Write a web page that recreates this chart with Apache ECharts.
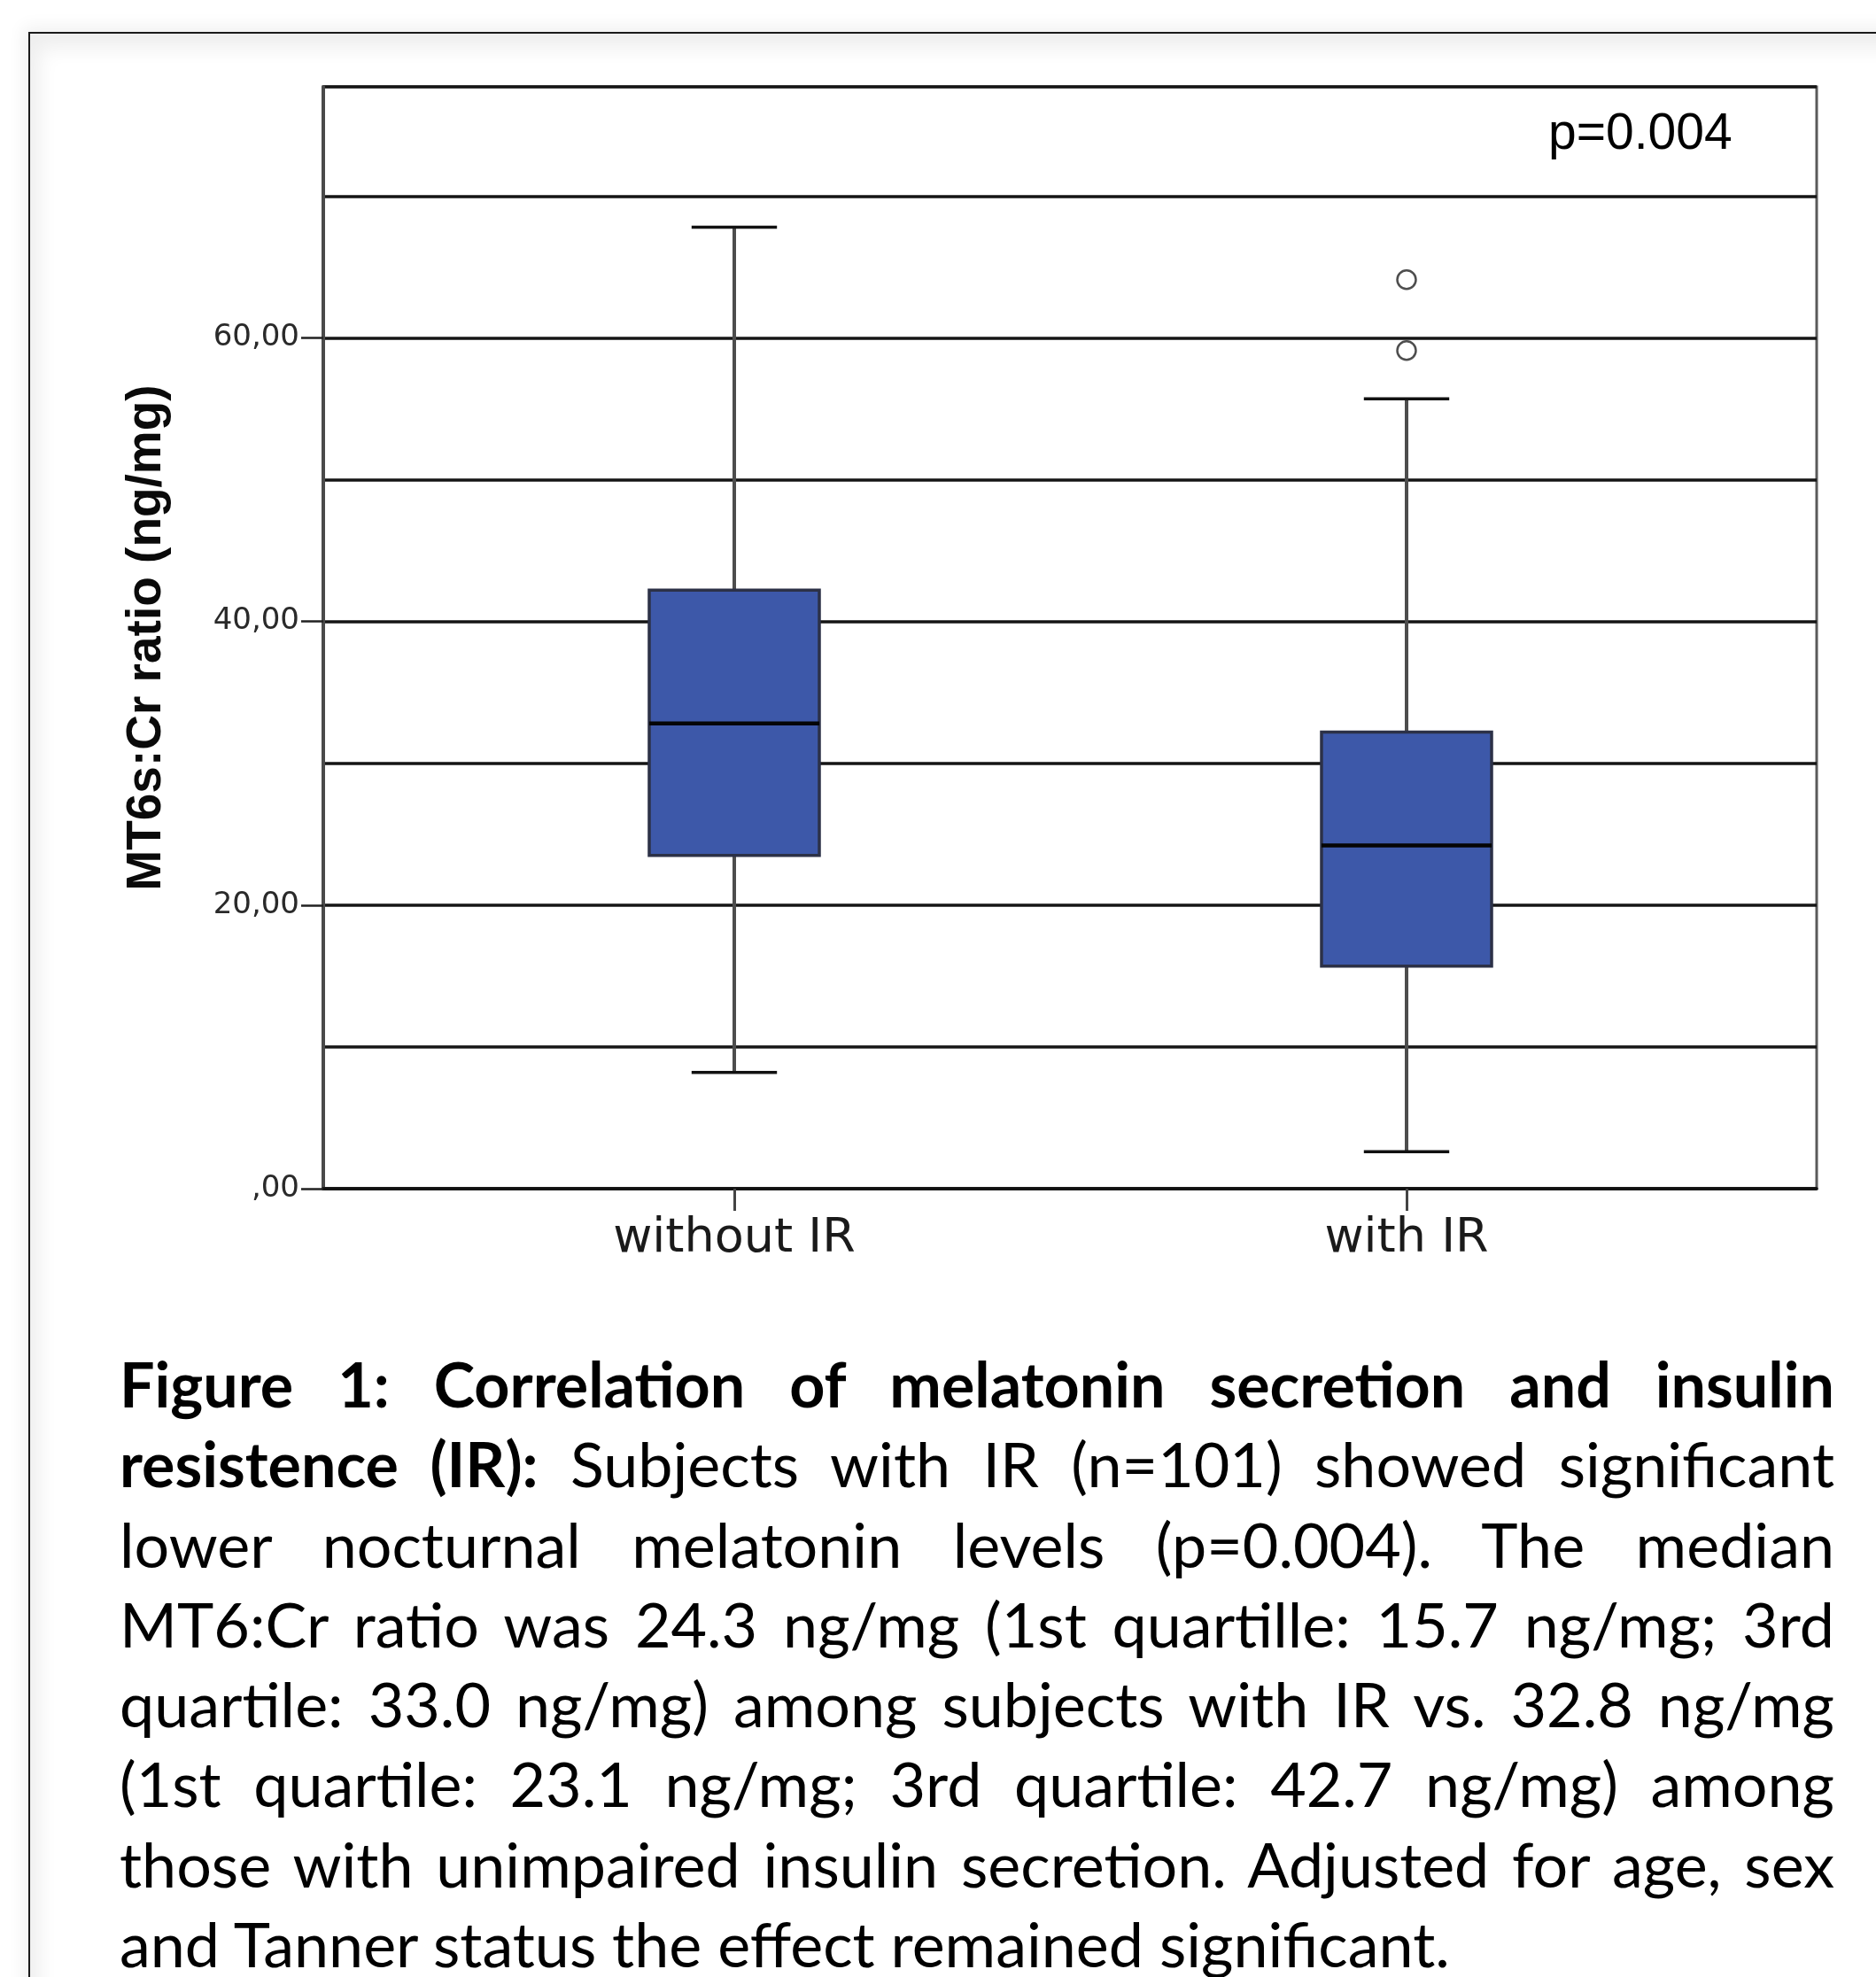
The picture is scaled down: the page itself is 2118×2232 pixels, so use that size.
<!DOCTYPE html>
<html>
<head>
<meta charset="utf-8">
<script src="https://cdn.jsdelivr.net/npm/echarts@6/dist/echarts.min.js"></script>
<style>
html,body{margin:0;padding:0;background:#fff;}
#wrap{position:relative;width:2118px;height:2232px;overflow:hidden;background:#fff;}
#frame{position:absolute;left:32px;top:36px;width:2200px;height:2300px;border-top:2px solid #1a1a1a;border-left:2px solid #1a1a1a;box-shadow:inset 10px 16px 22px rgba(0,0,0,0.07),-6px -6px 18px rgba(0,0,0,0.06);}
#chart{position:absolute;left:0;top:0;width:2118px;height:2232px;}
#caption{position:absolute;left:135px;top:1517px;width:1936px;font-family:Lato,"Open Sans",sans-serif;font-size:70px;line-height:90.3px;color:#000;}
.ln{text-align:justify;text-align-last:justify;white-space:nowrap;}
.ln.last{text-align:left;text-align-last:left;}
b{font-weight:700;}
</style>
</head>
<body>
<div id="wrap">
  <div id="frame"></div>
  <div id="chart"></div>
  <div id="caption">
    <div class="ln"><b>Figure 1: Correlation of melatonin secretion and insulin</b></div>
    <div class="ln"><b>resistence (IR):</b> Subjects with IR (n=101) showed significant</div>
    <div class="ln">lower nocturnal melatonin levels (p=0.004). The median</div>
    <div class="ln">MT6:Cr ratio was 24.3 ng/mg (1st quartille: 15.7 ng/mg; 3rd</div>
    <div class="ln">quartile: 33.0 ng/mg) among subjects with IR vs. 32.8 ng/mg</div>
    <div class="ln">(1st quartile: 23.1 ng/mg; 3rd quartile: 42.7 ng/mg) among</div>
    <div class="ln">those with unimpaired insulin secretion. Adjusted for age, sex</div>
    <div class="ln last">and Tanner status the effect remained significant.</div>
  </div>
</div>
<script>
// ---- data ----
const categories   = ['without IR', 'with IR'];
const whiskerLow   = [8.2, 2.6];
const quartile1    = [23.5, 15.7];
const medians      = [32.8, 24.2];
const quartile3    = [42.2, 32.2];
const whiskerHigh  = [67.8, 55.7];
const outlierCategory = ['with IR', 'with IR'];
const outlierValues   = [64.1, 59.1];
const yTickValues  = [0, 20, 40, 60];
const yTickLabels  = [',00', '20,00', '40,00', '60,00'];
const yMin = 0, yMax = 77.7, yGridStep = 10;
const pValueText = 'p=0.004';
const yAxisTitle = 'MT6s:Cr ratio (ng/mg)';

const boxData = categories.map((c, i) => [i, whiskerLow[i], quartile1[i], medians[i], quartile3[i], whiskerHigh[i]]);
const outlierData = outlierValues.map((v, i) => [categories.indexOf(outlierCategory[i]), v]);

const chart = echarts.init(document.getElementById('chart'), null, {renderer: 'canvas'});

const gridTop = 98, gridHeight = 1244;

const option = {
  backgroundColor: 'transparent',
  animation: false,
  grid: [
    {left: 365, top: gridTop, width: 1686, height: gridHeight, show: true, backgroundColor: '#fff', borderColor: '#5a5a5a', borderWidth: 3},
    {left: 449.5, top: gridTop, width: 1518, height: gridHeight}
  ],
  xAxis: [
    {gridIndex: 0, type: 'value', min: 0, max: 1,
     axisLine: {show: true, onZero: false, lineStyle: {color: '#111', width: 3.5}},
     axisTick: {show: false}, axisLabel: {show: false}, splitLine: {show: false}},
    {gridIndex: 1, type: 'category', data: categories, boundaryGap: true,
     axisLine: {show: false},
     axisTick: {show: true, alignWithLabel: true, length: 25, lineStyle: {color: '#444', width: 3}},
     axisLabel: {show: true, margin: 30, fontFamily: 'DejaVu Sans', fontSize: 54, color: '#1a1a1a'},
     splitLine: {show: false}}
  ],
  yAxis: [
    {gridIndex: 0, type: 'value', min: yMin, max: yMax, interval: yGridStep, position: 'left',
     name: yAxisTitle, nameLocation: 'middle', nameGap: 172, nameRotate: 90,
     nameTextStyle: {fontFamily: 'Liberation Sans', fontWeight: 'bold', fontSize: 55, color: '#0a0a0a'},
     axisLine: {show: true, lineStyle: {color: '#4a4a4a', width: 4}},
     axisTick: {show: true, length: 25, customValues: yTickValues, lineStyle: {color: '#222', width: 2.5}},
     axisLabel: {show: true, margin: 27, customValues: yTickValues, fontFamily: 'DejaVu Sans', fontSize: 34, color: '#2a2a2a',
       formatter: v => { const k = yTickValues.indexOf(v); return k >= 0 ? yTickLabels[k] : ''; }},
     splitLine: {show: false}},
    {gridIndex: 1, type: 'value', min: yMin, max: yMax, show: false, splitLine: {show: false}},
    {gridIndex: 0, type: 'value', min: yMin, max: yMax, interval: yGridStep, position: 'right',
     axisLine: {show: false}, axisTick: {show: false}, axisLabel: {show: false},
     splitLine: {show: true, lineStyle: {color: '#151515', width: 3.5}}}
  ],
  graphic: [
    {type: 'text', left: 1748, top: 124,
     style: {text: pValueText, fontFamily: 'Liberation Sans', fontSize: 57, fill: '#000'}}
  ],
  series: [
    {
      type: 'custom', xAxisIndex: 1, yAxisIndex: 1, z: 5,
      data: boxData,
      encode: {x: 0, y: [1, 2, 3, 4, 5]},
      renderItem: function (params, api) {
        const ci = api.value(0);
        const lo = api.coord([ci, api.value(1)]);
        const q1 = api.coord([ci, api.value(2)]);
        const md = api.coord([ci, api.value(3)]);
        const q3 = api.coord([ci, api.value(4)]);
        const hi = api.coord([ci, api.value(5)]);
        const band = api.size([1, 0])[0];
        const bw = band * 0.253, cw = band * 0.127;
        const cx = lo[0];
        return {type: 'group', children: [
          {type: 'line', shape: {x1: cx, y1: hi[1], x2: cx, y2: q3[1]}, style: {stroke: '#4d4d4d', lineWidth: 4}},
          {type: 'line', shape: {x1: cx, y1: q1[1], x2: cx, y2: lo[1]}, style: {stroke: '#4d4d4d', lineWidth: 4}},
          {type: 'line', shape: {x1: cx - cw / 2, y1: hi[1], x2: cx + cw / 2, y2: hi[1]}, style: {stroke: '#111', lineWidth: 3.5}},
          {type: 'line', shape: {x1: cx - cw / 2, y1: lo[1], x2: cx + cw / 2, y2: lo[1]}, style: {stroke: '#111', lineWidth: 3.5}},
          {type: 'rect', shape: {x: cx - bw / 2, y: q3[1], width: bw, height: q1[1] - q3[1]}, style: {fill: '#3d58a9', stroke: '#2c3147', lineWidth: 3.5}},
          {type: 'line', shape: {x1: cx - bw / 2, y1: md[1], x2: cx + bw / 2, y2: md[1]}, style: {stroke: '#050505', lineWidth: 4.5}}
        ]};
      }
    },
    {
      type: 'scatter', xAxisIndex: 1, yAxisIndex: 1, z: 6,
      data: outlierData,
      symbol: 'circle', symbolSize: 21,
      itemStyle: {color: '#fff', borderColor: '#222', borderWidth: 2.5}
    }
  ]
};
chart.setOption(option);
</script>
</body>
</html>
